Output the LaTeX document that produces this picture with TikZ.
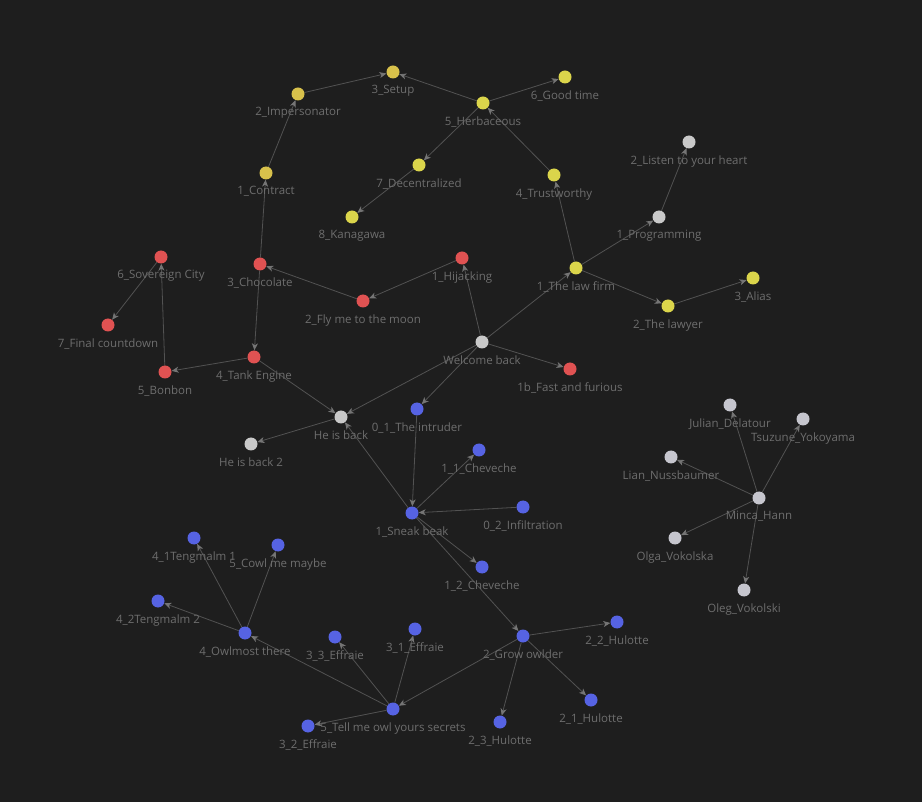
\documentclass[tikz,border=0pt]{standalone}
\usepackage{fontspec}
\setmainfont{Open Sans}
\usetikzlibrary{arrows.meta,backgrounds}
\definecolor{bgc}{HTML}{1E1E1E}
\definecolor{edgec}{HTML}{525252}
\definecolor{labc}{HTML}{6E6E6E}
\definecolor{yelA}{HTML}{D8C14B}
\definecolor{yelB}{HTML}{DBD54B}
\definecolor{redc}{HTML}{E05252}
\definecolor{bluc}{HTML}{5663E3}
\definecolor{gryc}{HTML}{C9C9C9}
\definecolor{gryp}{HTML}{C6C6CE}
\begin{document}
\begin{tikzpicture}[x=1pt,y=-1pt,
  dot/.style={circle,inner sep=0pt,minimum size=13pt,draw=none},
  lab/.style={text=labc,font=\fontsize{11.5}{13}\selectfont,inner sep=0pt,label distance=6.5pt},
  ya/.style={dot,fill=yelA,label={[lab]below:#1}},
  yb/.style={dot,fill=yelB,label={[lab]below:#1}},
  rd/.style={dot,fill=redc,label={[lab]below:#1}},
  bl/.style={dot,fill=bluc,label={[lab]below:#1}},
  gr/.style={dot,fill=gryc,label={[lab]below:#1}},
  gp/.style={dot,fill=gryp,label={[lab]below:#1}},
  edge/.style={draw=edgec,line width=0.8pt,-{Stealth[length=7pt,width=6pt,inset=2pt,color=edgec!80!white]}},
]
\useasboundingbox (0,0) rectangle (922,802);
% yellow
\node[ya=3\_Setup] (setup) at (393,72) {};
\node[ya=2\_Impersonator] (imp) at (298,94) {};
\node[yb=5\_Herbaceous] (herb) at (483,103) {};
\node[yb=6\_Good time] (good) at (565,77) {};
\node[yb=7\_Decentralized] (decent) at (419,165) {};
\node[yb=4\_Trustworthy] (trust) at (554,175) {};
\node[ya=1\_Contract] (contract) at (266,173) {};
\node[yb=8\_Kanagawa] (kana) at (352,217) {};
\node[yb=1\_The law firm] (lawfirm) at (576,268) {};
\node[yb=2\_The lawyer] (lawyer) at (668,306) {};
\node[yb=3\_Alias] (alias) at (753,278) {};
% grey
\node[gr=2\_Listen to your heart] (listen) at (689,142) {};
\node[gr=1\_Programming] (prog) at (659,217) {};
\node[gr=Welcome back] (welcome) at (482,342) {};
\node[gr=He is back] (heback) at (341,417) {};
\node[gr=He is back 2] (heback2) at (251,444) {};
% red
\node[rd=6\_Sovereign City] (sov) at (161,257) {};
\node[rd=3\_Chocolate] (choc) at (260,264) {};
\node[rd=1\_Hijacking] (hijack) at (462,258) {};
\node[rd=2\_Fly me to the moon] (fly) at (363,301) {};
\node[rd=7\_Final countdown] (final) at (108,325) {};
\node[rd=4\_Tank Engine] (tank) at (254,357) {};
\node[rd=5\_Bonbon] (bonbon) at (165,372) {};
\node[rd=1b\_Fast and furious] (fast) at (570,369) {};
% blue
\node[bl=0\_1\_The intruder] (intruder) at (417,409) {};
\node[bl=1\_1\_Cheveche] (chev1) at (479,450) {};
\node[bl=1\_Sneak beak] (sneak) at (412,513) {};
\node[bl=0\_2\_Infiltration] (infil) at (523,507) {};
\node[bl=1\_2\_Cheveche] (chev2) at (482,567) {};
\node[bl=4\_1Tengmalm 1] (teng1) at (194,538) {};
\node[bl=5\_Cowl me maybe] (cowl) at (278,545) {};
\node[bl=4\_2Tengmalm 2] (teng2) at (158,601) {};
\node[bl=4\_Owlmost there] (owl) at (245,633) {};
\node[bl=3\_3\_Effraie] (eff3) at (335,637) {};
\node[bl=3\_1\_Effraie] (eff1) at (415,629) {};
\node[bl=5\_Tell me owl yours secrets] (tell) at (393,709) {};
\node[bl=3\_2\_Effraie] (eff2) at (308,726) {};
\node[bl=2\_Grow owlder] (grow) at (523,636) {};
\node[bl=2\_2\_Hulotte] (hul2) at (617,622) {};
\node[bl=2\_1\_Hulotte] (hul1) at (591,700) {};
\node[bl=2\_3\_Hulotte] (hul3) at (500,722) {};
% people
\node[gp=Julian\_Delatour] (julian) at (730,405) {};
\node[gp=Tsuzune\_Yokoyama] (tsuzune) at (803,419) {};
\node[gp=Lian\_Nussbaumer] (lian) at (671,457) {};
\node[gp=Minca\_Hann] (minca) at (759,498) {};
\node[gp=Olga\_Vokolska] (olga) at (675,538) {};
\node[gp=Oleg\_Vokolski] (oleg) at (744,590) {};
\begin{scope}[on background layer]
\fill[bgc] (0,0) rectangle (922,802);
\foreach \a/\b in {welcome/lawfirm,welcome/hijack,welcome/fast,welcome/heback,welcome/intruder,
  lawfirm/trust,lawfirm/prog,lawfirm/lawyer,prog/listen,lawyer/alias,trust/herb,
  herb/setup,herb/good,herb/decent,decent/kana,imp/setup,contract/imp,choc/contract,
  choc/tank,hijack/fly,fly/choc,tank/bonbon,tank/heback,bonbon/sov,sov/final,
  heback/heback2,sneak/heback,intruder/sneak,sneak/chev1,sneak/chev2,sneak/grow,infil/sneak,
  grow/hul2,grow/hul1,grow/hul3,grow/tell,tell/owl,tell/eff3,tell/eff1,tell/eff2,
  owl/teng1,owl/cowl,owl/teng2,minca/julian,minca/tsuzune,minca/lian,minca/olga,minca/oleg}
  \draw[edge] (\a) -- (\b);
\end{scope}
\end{tikzpicture}
\end{document}
